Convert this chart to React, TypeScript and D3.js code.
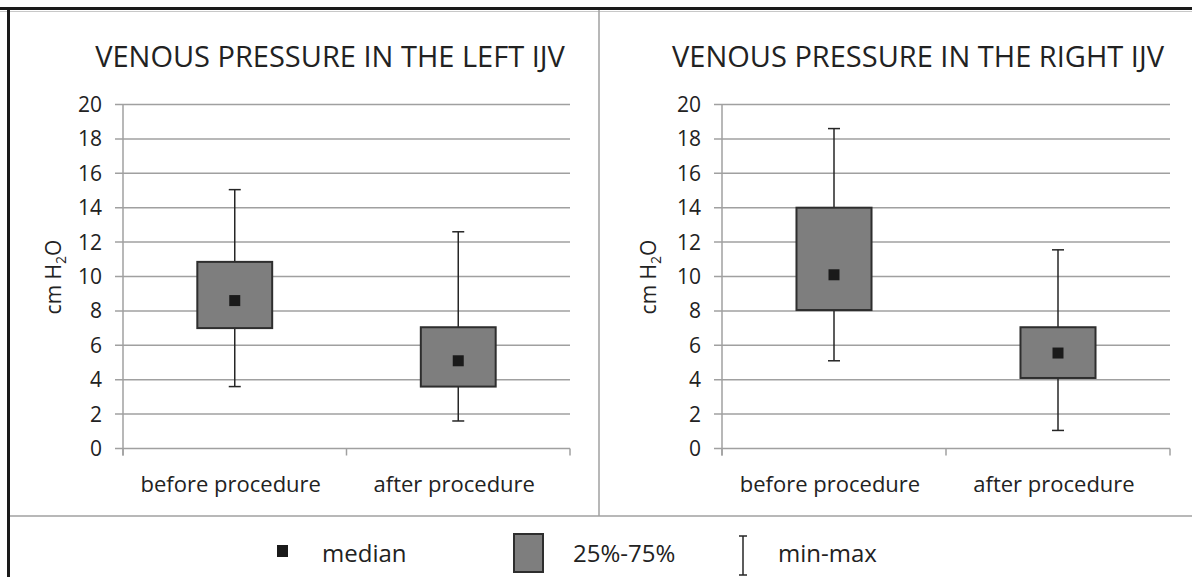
import React, { useEffect, useRef } from "react";
import * as d3 from "d3";

// data
const categories = ["before procedure", "after procedure"];
const yTicks = [0, 2, 4, 6, 8, 10, 12, 14, 16, 18, 20];

const panelTitles = ["VENOUS PRESSURE IN THE LEFT IJV", "VENOUS PRESSURE IN THE RIGHT IJV"];
const leftMin = [3.6, 1.6];
const leftQ1 = [7.0, 3.6];
const leftMedian = [8.6, 5.1];
const leftQ3 = [10.85, 7.05];
const leftMax = [15.05, 12.6];

const rightMin = [5.1, 1.05];
const rightQ1 = [8.05, 4.1];
const rightMedian = [10.1, 5.55];
const rightQ3 = [14.0, 7.05];
const rightMax = [18.6, 11.55];

const legendLabels = ["median", "25%-75%", "min-max"];

const W = 1192;
const H = 577;
const FONT = "'Open Sans', sans-serif";
const TXT = "#222";
const GRID = "#a0a0a0";

const App = () => {
  const ref = useRef<SVGSVGElement>(null);

  useEffect(() => {
    const svg = d3.select(ref.current);
    svg.selectAll("*").remove();

    svg.append("rect").attr("width", W).attr("height", H).attr("fill", "#fff");

    // frame
    svg.append("line").attr("x1", 0).attr("x2", W).attr("y1", 11.5).attr("y2", 11.5)
      .attr("stroke", "#c8c8c8").attr("stroke-width", 1);
    svg.append("line").attr("x1", 599).attr("x2", 599).attr("y1", 10).attr("y2", 516)
      .attr("stroke", GRID).attr("stroke-width", 1.5);
    svg.append("line").attr("x1", 9).attr("x2", W).attr("y1", 516).attr("y2", 516)
      .attr("stroke", GRID).attr("stroke-width", 1.5);
    svg.append("line").attr("x1", 0).attr("x2", W).attr("y1", 8.5).attr("y2", 8.5)
      .attr("stroke", "#1a1a1a").attr("stroke-width", 3);
    svg.append("line").attr("x1", 8.5).attr("x2", 8.5).attr("y1", 7).attr("y2", H)
      .attr("stroke", "#1a1a1a").attr("stroke-width", 3);

    const panels = [
      { x0: 123, x1: 570, titleX: 330, labelX: 54, stats: [leftMin, leftQ1, leftMedian, leftQ3, leftMax] },
      { x0: 722, x1: 1170, titleX: 918, labelX: 649, stats: [rightMin, rightQ1, rightMedian, rightQ3, rightMax] },
    ];

    panels.forEach((p, pi) => {
      const y = d3.scaleLinear().domain([0, 20]).range([448.5, 104.5]);
      const x = d3.scaleBand().domain(categories).range([p.x0, p.x1]);
      const g = svg.append("g");

      g.append("text")
        .attr("x", p.titleX).attr("y", 67)
        .attr("text-anchor", "middle")
        .attr("font-family", FONT).attr("font-size", 29).attr("fill", TXT)
        .text(panelTitles[pi]);

      // grid + y ticks
      g.append("g").selectAll("line").data(yTicks).join("line")
        .attr("x1", p.x0 - 8).attr("x2", p.x1)
        .attr("y1", d => y(d)).attr("y2", d => y(d))
        .attr("stroke", GRID).attr("stroke-width", 1.5);

      g.append("g").selectAll("text").data(yTicks).join("text")
        .attr("x", p.x0 - 21).attr("y", d => y(d)).attr("dy", "0.36em")
        .attr("text-anchor", "end")
        .attr("font-family", FONT).attr("font-size", 21).attr("fill", TXT)
        .text(d => d);

      // axes
      g.append("line").attr("x1", p.x0).attr("x2", p.x0).attr("y1", y(20)).attr("y2", y(0) + 7)
        .attr("stroke", GRID).attr("stroke-width", 1.5);
      const xt = [p.x0, p.x0 + x.bandwidth(), p.x1];
      g.append("g").selectAll("line").data(xt).join("line")
        .attr("x1", d => d).attr("x2", d => d).attr("y1", y(0)).attr("y2", y(0) + 7)
        .attr("stroke", GRID).attr("stroke-width", 1.5);

      g.append("g").selectAll("text").data(categories).join("text")
        .attr("x", d => (x(d) as number) + x.bandwidth() / 2 - 4).attr("y", 492)
        .attr("text-anchor", "middle")
        .attr("font-family", FONT).attr("font-size", 22).attr("fill", TXT)
        .text(d => d);

      const label = g.append("text")
        .attr("transform", `translate(${p.labelX + 7},277) rotate(-90)`)
        .attr("text-anchor", "middle")
        .attr("font-family", FONT).attr("font-size", 21).attr("fill", TXT);
      label.append("tspan").text("cm H");
      label.append("tspan").attr("font-size", 14).attr("dy", 5).text("2");
      label.append("tspan").attr("dy", -5).text("O");

      const [mn, q1, med, q3, mx] = p.stats;
      const boxW = x.bandwidth() * 0.335;
      const cap = 6;

      categories.forEach((c, i) => {
        const cx = (x(c) as number) + x.bandwidth() / 2;
        const bg = g.append("g");
        bg.append("line").attr("x1", cx).attr("x2", cx).attr("y1", y(mx[i])).attr("y2", y(mn[i]))
          .attr("stroke", "#262626").attr("stroke-width", 1.5);
        [mx[i], mn[i]].forEach(v => {
          bg.append("line").attr("x1", cx - cap).attr("x2", cx + cap).attr("y1", y(v)).attr("y2", y(v))
            .attr("stroke", "#262626").attr("stroke-width", 1.5);
        });
        bg.append("rect")
          .attr("x", cx - boxW / 2).attr("width", boxW)
          .attr("y", y(q3[i])).attr("height", y(q1[i]) - y(q3[i]))
          .attr("fill", "#7e7e7e").attr("stroke", "#2e2e2e").attr("stroke-width", 2);
        bg.append("rect")
          .attr("x", cx - 5.5).attr("y", y(med[i]) - 5.5).attr("width", 11).attr("height", 11)
          .attr("fill", "#1a1a1a");
      });
    });

    // legend
    const lg = svg.append("g");
    lg.append("rect").attr("x", 277).attr("y", 545).attr("width", 11).attr("height", 12).attr("fill", "#1a1a1a");
    lg.append("rect").attr("x", 514).attr("y", 534).attr("width", 29).attr("height", 38)
      .attr("fill", "#7e7e7e").attr("stroke", "#2e2e2e").attr("stroke-width", 2);
    lg.append("line").attr("x1", 743).attr("x2", 743).attr("y1", 536).attr("y2", 575)
      .attr("stroke", "#262626").attr("stroke-width", 1.5);
    [536, 575].forEach(v => {
      lg.append("line").attr("x1", 739).attr("x2", 747).attr("y1", v).attr("y2", v)
        .attr("stroke", "#262626").attr("stroke-width", 1.5);
    });
    const legendX = [322, 573, 778];
    lg.selectAll("text.leg").data(legendLabels).join("text")
      .attr("class", "leg")
      .attr("x", (d, i) => legendX[i]).attr("y", 562)
      .attr("font-family", FONT).attr("font-size", 24).attr("fill", TXT)
      .text(d => d);
  }, []);

  return (
    <svg ref={ref} width={W} height={H}
      style={{ position: "absolute", left: 0, top: 0, display: "block" }} />
  );
};

export default App;
